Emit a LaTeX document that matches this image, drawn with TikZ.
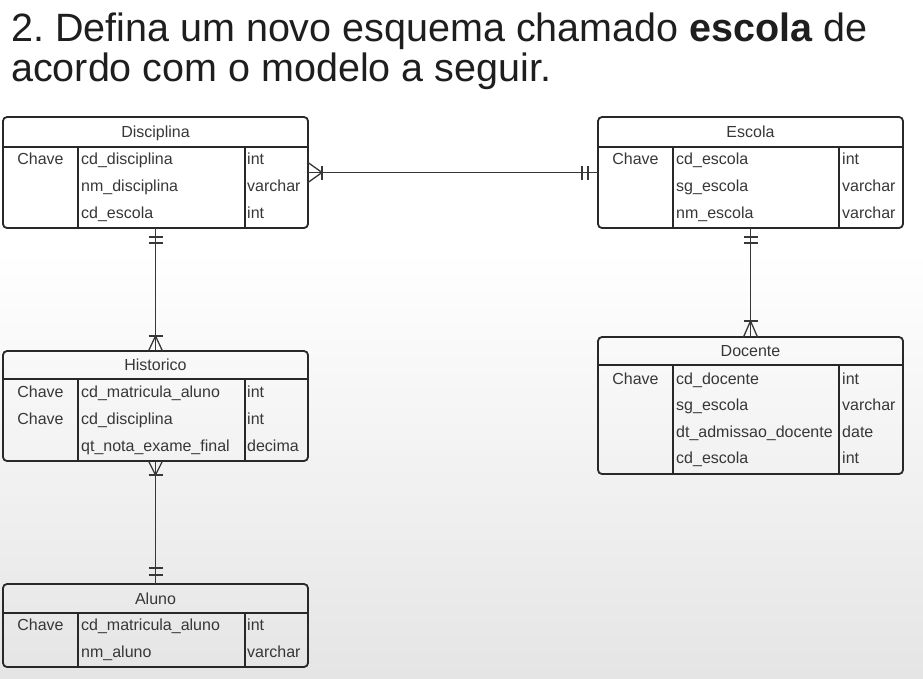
\documentclass[tikz,border=0pt]{standalone}
\usepackage{fontspec}
\setmainfont{Liberation Sans}
\definecolor{linec}{RGB}{40,40,40}
\definecolor{connc}{RGB}{55,55,55}
\definecolor{txtc}{RGB}{55,55,55}
\definecolor{titc}{RGB}{30,30,30}
\definecolor{bgc}{RGB}{229,229,229}
\newcommand{\errow}[6]{%
  \node[keyc] (#1k) at (#2+37.5,#3) {#4};
  \node[fld] (#1f) at (#2+78,#3) {#5};
  \node[fld] (#1t) at (#2+244,#3) {#6};
}
\frenchspacing
\begin{document}
\begin{tikzpicture}[x=1pt,y=-1pt,
  tbl/.style={draw=linec, line width=1.8pt, rounded corners=4pt, inner sep=0pt, outer sep=0pt, anchor=north west},
  sep/.style={draw=linec, line width=1.8pt},
  txt/.style={font=\fontsize{16}{18}\selectfont, text=txtc, inner sep=0pt, text height=11pt, text depth=0pt},
  keyc/.style={txt, anchor=center},
  fld/.style={txt, anchor=west},
  hdr/.style={txt, anchor=center},
  conn/.style={draw=connc, line width=1.3pt},
  titl/.style={anchor=base west, font=\fontsize{39.5}{46}\selectfont, text=titc, inner sep=0pt}
]
% background
\fill[white] (0,0) rectangle (923,250);
\shade[top color=white, bottom color=bgc] (0,249.5) rectangle (923,678);
\useasboundingbox (0,0) rectangle (923,678);

% title
\node[titl] (t1) at (11,41) {2. Defina um novo esquema chamado \textbf{escola} de};
\node[titl] (t2) at (11,81) {acordo com o modelo a seguir.};

% Disciplina
\node[tbl, minimum width=305pt, minimum height=111pt] (disc) at (3,117) {};
\draw[sep] (3,147) -- (308,147);
\draw[sep] (78,147) -- (78,228);
\draw[sep] (245,147) -- (245,228);
\node[hdr] (disch) at (155.5,132) {Disciplina};
\errow{disca}{3}{159}{Chave}{cd\_disciplina}{int}
\errow{discb}{3}{186}{}{nm\_disciplina}{varchar}
\errow{discc}{3}{213}{}{cd\_escola}{int}

% Escola
\node[tbl, minimum width=305pt, minimum height=111pt] (esc) at (598,117) {};
\draw[sep] (598,147) -- (903,147);
\draw[sep] (673,147) -- (673,228);
\draw[sep] (839,147) -- (839,228);
\node[hdr] (esch) at (750.5,132) {Escola};
\errow{esca}{598}{159}{Chave}{cd\_escola}{int}
\errow{escb}{598}{186}{}{sg\_escola}{varchar}
\errow{escc}{598}{213}{}{nm\_escola}{varchar}

% Historico
\node[tbl, minimum width=305pt, minimum height=110pt] (hist) at (3,351) {};
\draw[sep] (3,379) -- (308,379);
\draw[sep] (78,379) -- (78,461);
\draw[sep] (245,379) -- (245,461);
\node[hdr] (histh) at (155.5,365) {Historico};
\errow{hista}{3}{392}{Chave}{cd\_matricula\_aluno}{int}
\errow{histb}{3}{419}{Chave}{cd\_disciplina}{int}
\errow{histc}{3}{446}{}{qt\_nota\_exame\_final}{decima}

% Docente
\node[tbl, minimum width=305pt, minimum height=137pt] (doc) at (598,337) {};
\draw[sep] (598,365) -- (903,365);
\draw[sep] (673,365) -- (673,474);
\draw[sep] (839,365) -- (839,474);
\node[hdr] (doch) at (750.5,351) {Docente};
\errow{doca}{598}{379}{Chave}{cd\_docente}{int}
\errow{docb}{598}{405}{}{sg\_escola}{varchar}
\errow{docc}{598}{432}{}{dt\_admissao\_docente}{date}
\errow{docd}{598}{458}{}{cd\_escola}{int}

% Aluno
\node[tbl, minimum width=305pt, minimum height=83pt] (alu) at (3,584) {};
\draw[sep] (3,613) -- (308,613);
\draw[sep] (78,613) -- (78,667);
\draw[sep] (245,613) -- (245,667);
\node[hdr] (aluh) at (155.5,598.5) {Aluno};
\errow{alua}{3}{625}{Chave}{cd\_matricula\_aluno}{int}
\errow{alub}{3}{652}{}{nm\_aluno}{varchar}

% Disciplina -- Escola
\draw[conn] (disc.east) -- (esc.west);
\draw[conn] ([yshift=10pt]disc.east) -- ([xshift=14pt]disc.east) -- ([yshift=-10pt]disc.east);
\draw[conn] ([xshift=14pt,yshift=7pt]disc.east) -- ([xshift=14pt,yshift=-7pt]disc.east);
\draw[conn] ([xshift=-16pt,yshift=7pt]esc.west) -- ([xshift=-16pt,yshift=-7pt]esc.west);
\draw[conn] ([xshift=-10pt,yshift=7pt]esc.west) -- ([xshift=-10pt,yshift=-7pt]esc.west);

% Disciplina -- Historico
\draw[conn] (disc.south) -- (hist.north);
\draw[conn] ([xshift=-7pt,yshift=-9pt]disc.south) -- ([xshift=7pt,yshift=-9pt]disc.south);
\draw[conn] ([xshift=-7pt,yshift=-15pt]disc.south) -- ([xshift=7pt,yshift=-15pt]disc.south);
\draw[conn] ([xshift=-7pt]hist.north) -- ([yshift=15pt]hist.north) -- ([xshift=7pt]hist.north);
\draw[conn] ([xshift=-7pt,yshift=15pt]hist.north) -- ([xshift=7pt,yshift=15pt]hist.north);

% Escola -- Docente
\draw[conn] (esc.south) -- (doc.north);
\draw[conn] ([xshift=-7pt,yshift=-9pt]esc.south) -- ([xshift=7pt,yshift=-9pt]esc.south);
\draw[conn] ([xshift=-7pt,yshift=-15pt]esc.south) -- ([xshift=7pt,yshift=-15pt]esc.south);
\draw[conn] ([xshift=-7pt]doc.north) -- ([yshift=16pt]doc.north) -- ([xshift=7pt]doc.north);
\draw[conn] ([xshift=-7pt,yshift=16pt]doc.north) -- ([xshift=7pt,yshift=16pt]doc.north);

% Historico -- Aluno
\draw[conn] (hist.south) -- (alu.north);
\draw[conn] ([xshift=-7pt]hist.south) -- ([yshift=-14pt]hist.south) -- ([xshift=7pt]hist.south);
\draw[conn] ([xshift=-7pt,yshift=-14pt]hist.south) -- ([xshift=7pt,yshift=-14pt]hist.south);
\draw[conn] ([xshift=-7pt,yshift=16pt]alu.north) -- ([xshift=7pt,yshift=16pt]alu.north);
\draw[conn] ([xshift=-7pt,yshift=9pt]alu.north) -- ([xshift=7pt,yshift=9pt]alu.north);
\end{tikzpicture}
\end{document}
